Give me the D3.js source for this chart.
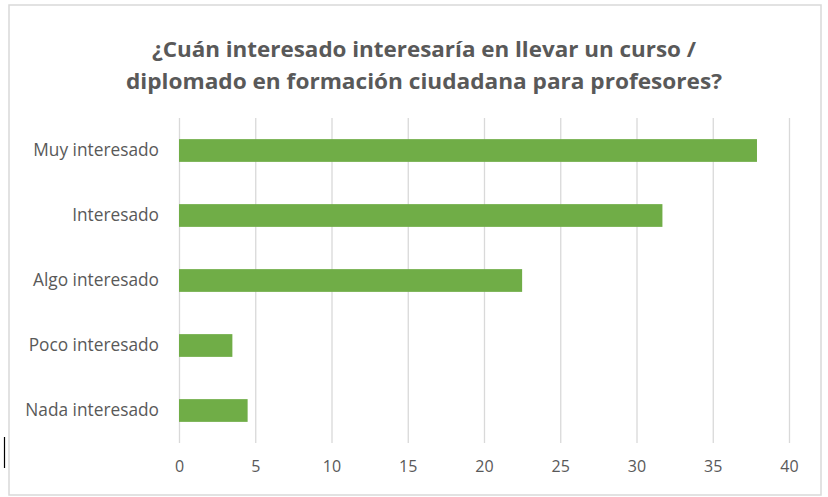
<!DOCTYPE html>
<html>
<head>
    <meta charset="UTF-8">
    <title>interes</title>
    <style>
        body { margin: 0; background: #fff; }
        svg { display: block; font-family: "Open Sans", "Noto Sans", sans-serif; }
        .grid line { stroke: #d9d9d9; stroke-width: 1.3px; }
        .grid path { display: none; }
        .axis path, .axis line { display: none; }
        .axis text { fill: #595959; font-size: 16px; font-family: "Open Sans", "Noto Sans", sans-serif; }
        .axis--y text { font-size: 17.3px; }
        .bar { fill: #70ad47; }
    </style>
</head>
<body>
<svg width="828" height="497"></svg>
<script src="https://cdn.jsdelivr.net/npm/d3@7"></script>
<script>

    // categorias y valores
    var categorias = ["Muy interesado", "Interesado", "Algo interesado", "Poco interesado", "Nada interesado"];
    var valores = [37.9, 31.7, 22.5, 3.5, 4.5];
    var ticks = [0, 5, 10, 15, 20, 25, 30, 35, 40];
    var titulo = ["¿Cuán interesado interesaría en llevar un curso /",
                  "diplomado en formación ciudadana para profesores?"];

    var svg = d3.select("svg");
    var margin = {top: 118, right: 39, bottom: 54, left: 179};
    var width = +svg.attr("width") - margin.left - margin.right;
    var height = +svg.attr("height") - margin.top - margin.bottom;

    // borde del grafico
    svg.append("rect")
        .attr("x", 9).attr("y", 5)
        .attr("width", 812).attr("height", 490)
        .attr("fill", "#fff")
        .attr("stroke", "#d9d9d9")
        .attr("stroke-width", 1.5);

    // linea negra suelta a la izquierda
    svg.append("line")
        .attr("x1", 4.5).attr("x2", 4.5)
        .attr("y1", 437).attr("y2", 468)
        .attr("stroke", "#000").attr("stroke-width", 1.2);

    // titulo
    var anchos = [544, 596];
    svg.append("g").selectAll("text")
        .data(titulo)
        .enter().append("text")
        .attr("x", 424)
        .attr("y", function (d, i) { return 57 + i * 32; })
        .attr("text-anchor", "middle")
        .attr("fill", "#595959")
        .attr("font-size", "22px")
        .attr("font-weight", "bold")
        .attr("textLength", function (d, i) { return anchos[i]; })
        .attr("lengthAdjust", "spacingAndGlyphs")
        .text(function (d) { return d; });

    var g = svg.append("g").attr("transform", "translate(" + margin.left + "," + margin.top + ")");

    var x = d3.scaleLinear()
        .domain([0, 40])
        .range([0, width]);

    var y = d3.scaleBand()
        .domain(categorias)
        .range([0, height])
        .paddingInner(0.65)
        .paddingOuter(0.325);

    // lineas de cuadricula verticales
    g.append("g")
        .attr("class", "grid")
        .call(d3.axisBottom(x).tickValues(ticks).tickSize(height).tickFormat(""));

    g.selectAll(".bar")
        .data(valores)
        .enter().append("rect")
        .attr("class", "bar")
        .attr("x", x(0))
        .attr("y", function (d, i) { return y(categorias[i]); })
        .attr("width", function (d) { return x(d) - x(0); })
        .attr("height", y.bandwidth());

    // eje x
    g.append("g")
        .attr("class", "axis axis--x")
        .attr("transform", "translate(0," + height + ")")
        .call(d3.axisBottom(x).tickValues(ticks).tickSize(0).tickPadding(18))
        .attr("font-family", null).attr("font-size", null);

    // eje y
    g.append("g")
        .attr("class", "axis axis--y")
        .call(d3.axisLeft(y).tickSize(0).tickPadding(20))
        .attr("font-family", null).attr("font-size", null);

</script>
</body>
</html>
